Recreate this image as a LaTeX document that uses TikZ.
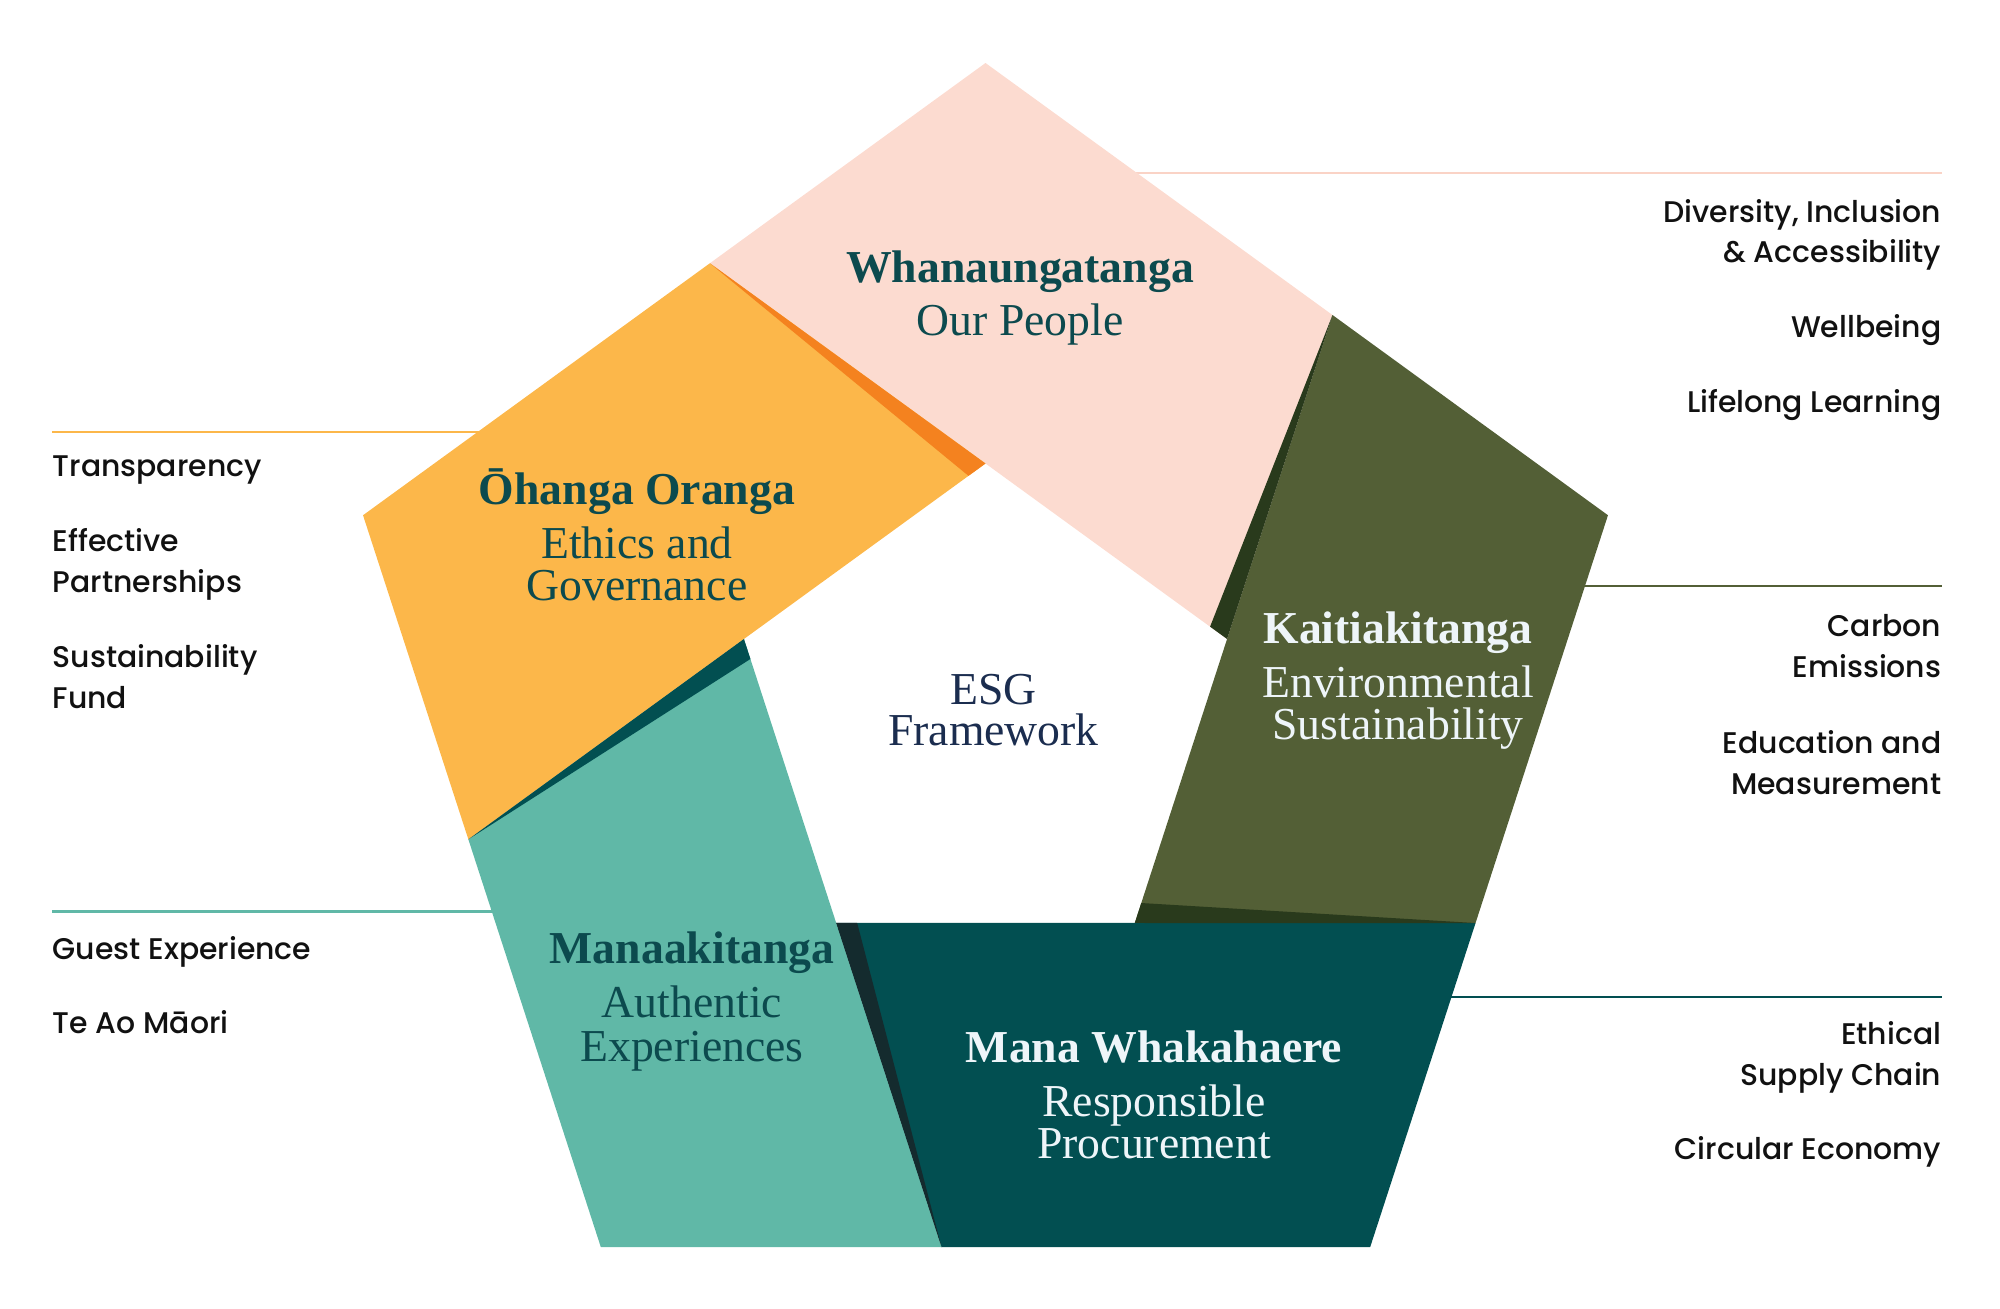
\documentclass[tikz,border=0pt]{standalone}
\usepackage{fontspec}
\setmainfont{Liberation Serif}
\IfFontExistsTF{Poppins Medium}{\setsansfont{Poppins Medium}}{\setsansfont{Poppins}}
\usepackage{tikz}
\usetikzlibrary{calc,
                positioning}

\definecolor{peach}{HTML}{FCDBD0}
\definecolor{peachline}{HTML}{FAD3C6}
\definecolor{amber}{HTML}{FCB74A}
\definecolor{amberdark}{HTML}{F4821F}
\definecolor{moss}{HTML}{535F36}
\definecolor{mossdark}{HTML}{293A1C}
\definecolor{petrol}{HTML}{024F51}
\definecolor{petroldark}{HTML}{142B2E}
\definecolor{seafoam}{HTML}{60B8A7}
\definecolor{headink}{HTML}{0C4A4E}
\definecolor{paleink}{HTML}{EEF5F9}
\definecolor{navy}{HTML}{1B2D4F}
\definecolor{sideink}{HTML}{111111}

\tikzset{
        lead/.style={draw=#1, line width=0.22mm},
        hdtitle/.style={font=\fontsize{13}{13}\selectfont\bfseries,
                        inner sep=0pt, anchor=base},
        hdsub/.style={font=\fontsize{13}{13}\selectfont,
                      inner sep=0pt, anchor=base},
        itemr/.style={font=\sffamily\fontsize{8.5}{10}\selectfont,
                      text=sideink, inner sep=0pt, anchor=base east},
        iteml/.style={itemr, anchor=base west},
 }

\begin{document}
\begin{tikzpicture}[x=0.1mm, y=-0.1mm]
    \useasboundingbox (0,0) rectangle (2000,1309);

    % pentagon corners, outer and inner
    \coordinate (ctr) at (985.5,717.5);
    \foreach \k/\a in {0/-90, 1/-18, 2/54, 3/126, 4/198} {
        \coordinate (O\k) at ($(ctr)+(\a:654.5)$);
        \coordinate (I\k) at ($(ctr)+(\a:254)$);
    }
    % cuts between the bands
    \coordinate (C1) at (intersection of I1--I0 and O4--O0);
    \coordinate (C2) at (intersection of I2--I1 and O0--O1);
    \coordinate (C3) at (intersection of I3--I2 and O1--O2);
    \coordinate (C4) at (intersection of I4--I3 and O2--O3);
    \coordinate (C5) at (intersection of I0--I4 and O3--O4);

    % leader lines
    \coordinate (peachA) at (1100,173);  \coordinate (peachB) at (1942,173);
    \coordinate (mossA)  at (1560,586);  \coordinate (mossB)  at (1942,586);
    \coordinate (petA)   at (1420,997);  \coordinate (petB)   at (1942,997);
    \coordinate (amberA) at (52,432);    \coordinate (amberB) at (520,432);
    \coordinate (seaA)   at (52,911.5);  \coordinate (seaB)   at (530,911.5);
    \draw[lead=peachline] (peachA) -- (peachB);
    \draw[lead=moss] (mossA) -- (mossB);
    \draw[lead=petrol] (petA) -- (petB);
    \draw[lead=amber] (amberA) -- (amberB);
    \draw[lead=seafoam] (seaA) -- (seaB);

    % bands
    \fill[peach] (C1) -- (O0) -- (C2) -- (I1) -- (I0) -- cycle;
    \fill[moss] (C2) -- (O1) -- (C3) -- (I2) -- (I1) -- cycle;
    \fill[petrol] (C3) -- (O2) -- (C4) -- (I3) -- (I2) -- cycle;
    \fill[seafoam] (C4) -- (O3) -- (C5) -- (I4) -- (I3) -- cycle;
    \fill[amber] (C5) -- (O4) -- (C1) -- (I0) -- (I4) -- cycle;

    % folds
    \fill[amberdark] (C1) -- (I0) -- ($(I0)!2.1mm!(I4)$) -- cycle;
    \fill[mossdark] (C2) -- (I1) -- ($(I1)!2.1mm!(I0)$) -- cycle;
    \fill[mossdark] (C3) -- (I2) -- ($(I2)!2.1mm!(I1)$) -- cycle;
    \fill[petroldark] (C4) -- (I3) -- ($(I3)!2.1mm!(I2)$) -- cycle;
    \fill[petrol] (C5) -- (I4) -- ($(I4)!2.1mm!(I3)$) -- cycle;

    % band titles
    \node[hdtitle, text=headink] (whan) at (1020,282) {Whanaungatanga};
    \node[hdsub, text=headink] (people) at ([yshift=-5.3mm]whan.base) {Our People};

    \node[hdtitle, text=headink] (ohanga) at (637,504) {Ōhanga Oranga};
    \node[hdsub, text=headink] (ethics) at ([yshift=-5.4mm]ohanga.base) {Ethics and};
    \node[hdsub, text=headink] (gov) at ([yshift=-4.2mm]ethics.base) {Governance};

    \node[hdtitle, text=paleink] (kaiti) at (1398,643) {Kaitiakitanga};
    \node[hdsub, text=paleink] (env) at ([yshift=-5.4mm]kaiti.base) {Environmental};
    \node[hdsub, text=paleink] (sust) at ([yshift=-4.2mm]env.base) {Sustainability};

    \node[hdsub, text=navy] (esg) at (993.5,704) {ESG};
    \node[hdsub, text=navy] (frame) at ([yshift=-4.1mm]esg.base) {Framework};

    \node[hdtitle, text=headink] (manaaki) at (692,963) {Manaakitanga};
    \node[hdsub, text=headink] (auth) at ([yshift=-5.4mm]manaaki.base) {Authentic};
    \node[hdsub, text=headink] (exper) at ([yshift=-4.4mm]auth.base) {Experiences};

    \node[hdtitle, text=paleink] (mana) at (1154,1062) {Mana Whakahaere};
    \node[hdsub, text=paleink] (resp) at ([yshift=-5.4mm]mana.base) {Responsible};
    \node[hdsub, text=paleink] (proc) at ([yshift=-4.2mm]resp.base) {Procurement};

    % right column
    \node[itemr] (divers) at (1942,222) {Diversity, Inclusion};
    \node[itemr] (access) at ([yshift=-4mm]divers.base east) {\& Accessibility};
    \node[itemr] (wellb) at ([yshift=-7.5mm]access.base east) {Wellbeing};
    \node[itemr] (lifel) at ([yshift=-7.5mm]wellb.base east) {Lifelong Learning};

    \node[itemr] (carbon) at (1942,636) {Carbon};
    \node[itemr] (emiss) at ([yshift=-4.1mm]carbon.base east) {Emissions};
    \node[itemr] (educ) at ([yshift=-7.6mm]emiss.base east) {Education and};
    \node[itemr] (measure) at ([yshift=-4.1mm]educ.base east) {Measurement};

    \node[itemr] (ethical) at (1942,1044) {Ethical};
    \node[itemr] (supply) at ([yshift=-4.1mm]ethical.base east) {Supply Chain};
    \node[itemr] (circ) at ([yshift=-7.4mm]supply.base east) {Circular Economy};

    % left column
    \node[iteml] (transp) at (52,476) {Transparency};
    \node[iteml] (effect) at ([yshift=-7.5mm]transp.base west) {Effective};
    \node[iteml] (partn) at ([yshift=-4.1mm]effect.base west) {Partnerships};
    \node[iteml] (sustf) at ([yshift=-7.5mm]partn.base west) {Sustainability};
    \node[iteml] (fund) at ([yshift=-4.1mm]sustf.base west) {Fund};

    \node[iteml] (guest) at (52,959) {Guest Experience};
    \node[iteml] (teao) at ([yshift=-7.4mm]guest.base west) {Te Ao Māori};
\end{tikzpicture}
\end{document}
